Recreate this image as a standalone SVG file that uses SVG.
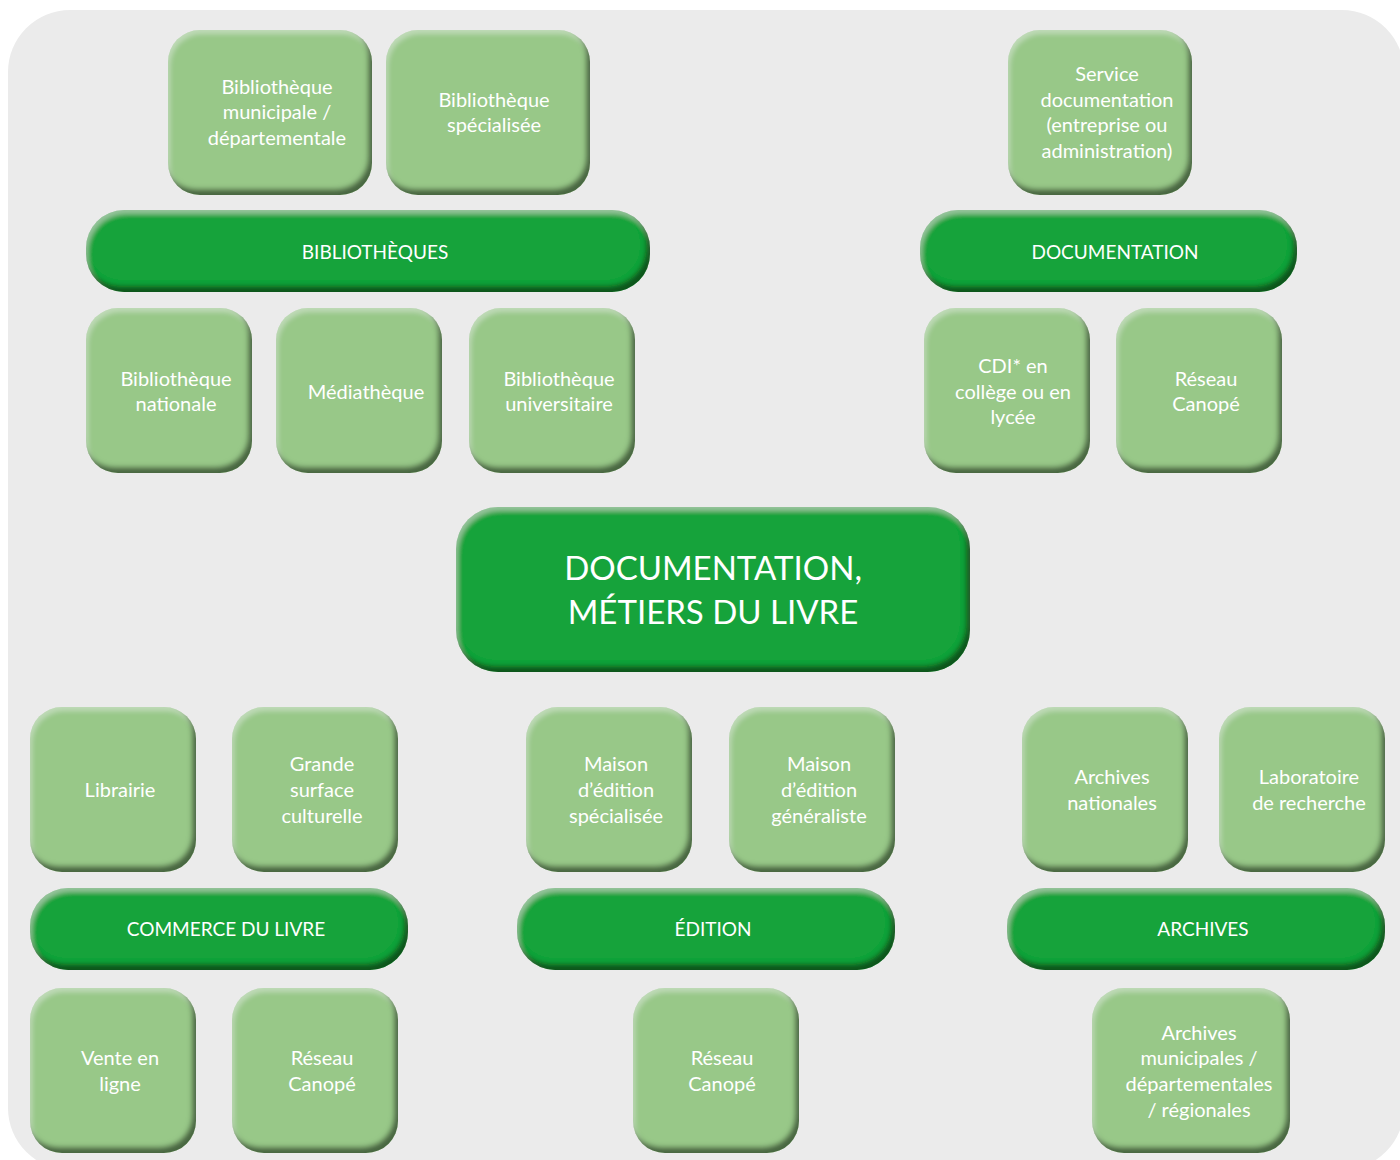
<svg xmlns="http://www.w3.org/2000/svg" width="1400" height="1160" viewBox="0 0 1400 1160">
<defs>
<filter id="bevel" x="-5%" y="-5%" width="110%" height="110%">
<feGaussianBlur in="SourceAlpha" stdDeviation="2.5" result="b"/>
<feOffset in="b" dx="-4" dy="-6" result="o"/>
<feComposite in="SourceAlpha" in2="o" operator="out" result="rim"/>
<feFlood flood-color="#0f2a0c" flood-opacity="0.8" result="c"/>
<feComposite in="c" in2="rim" operator="in" result="shadow"/>
<feOffset in="b" dx="2" dy="4" result="o2"/>
<feComposite in="SourceAlpha" in2="o2" operator="out" result="rim2"/>
<feFlood flood-color="#ffffff" flood-opacity="0.3" result="c2"/>
<feComposite in="c2" in2="rim2" operator="in" result="hl"/>
<feMerge><feMergeNode in="SourceGraphic"/><feMergeNode in="hl"/><feMergeNode in="shadow"/></feMerge>
</filter>
</defs>
<style>
.leaf{fill:#98c888;filter:url(#bevel)}
.bar{fill:#16a33a;filter:url(#bevel)}
text{font-family:Lato,"Liberation Sans",sans-serif;fill:#ffffff;text-anchor:middle}
.t{font-size:20px}
.b{font-size:19px}
.m{font-size:33px}
</style>
<rect x="8" y="10" width="1396" height="1160" rx="62" fill="#ebebeb"/>
<g id="connectors"/>

<g id="bib-municipale"><rect class="leaf" x="168" y="30" width="204" height="165" rx="32"/>
<text class="t" x="277" y="94">Bibliothèque</text><text class="t" x="277" y="119">municipale /</text><text class="t" x="277" y="145">départementale</text></g>
<g id="bib-specialisee"><rect class="leaf" x="386" y="30" width="204" height="165" rx="32"/>
<text class="t" x="494" y="107">Bibliothèque</text><text class="t" x="494" y="132">spécialisée</text></g>
<g id="bibliotheques"><rect class="bar" x="86" y="210" width="564" height="82" rx="38"/>
<text class="b" x="375" y="259">BIBLIOTHÈQUES</text></g>
<g id="bib-nationale"><rect class="leaf" x="86" y="308" width="166" height="165" rx="32"/>
<text class="t" x="176" y="386">Bibliothèque</text><text class="t" x="176" y="411">nationale</text></g>
<g id="mediatheque"><rect class="leaf" x="276" y="308" width="166" height="165" rx="32"/>
<text class="t" x="366" y="399">Médiathèque</text></g>
<g id="bib-universitaire"><rect class="leaf" x="469" y="308" width="166" height="165" rx="32"/>
<text class="t" x="559" y="386">Bibliothèque</text><text class="t" x="559" y="411">universitaire</text></g>

<g id="service-doc"><rect class="leaf" x="1008" y="30" width="184" height="165" rx="32"/>
<text class="t" x="1107" y="81">Service</text><text class="t" x="1107" y="107">documentation</text><text class="t" x="1107" y="132">(entreprise ou</text><text class="t" x="1107" y="158">administration)</text></g>
<g id="documentation"><rect class="bar" x="920" y="210" width="377" height="82" rx="38"/>
<text class="b" x="1115" y="259">DOCUMENTATION</text></g>
<g id="cdi"><rect class="leaf" x="924" y="308" width="166" height="165" rx="32"/>
<text class="t" x="1013" y="373">CDI* en</text><text class="t" x="1013" y="399">collège ou en</text><text class="t" x="1013" y="424">lycée</text></g>
<g id="canope-doc"><rect class="leaf" x="1116" y="308" width="166" height="165" rx="32"/>
<text class="t" x="1206" y="386">Réseau</text><text class="t" x="1206" y="411">Canopé</text></g>

<g id="central"><rect class="bar" x="456" y="507" width="514" height="165" rx="42"/>
<text class="m" x="713" y="580">DOCUMENTATION,</text><text class="m" x="713" y="624">MÉTIERS DU LIVRE</text></g>

<g id="librairie"><rect class="leaf" x="30" y="707" width="166" height="165" rx="32"/>
<text class="t" x="120" y="797">Librairie</text></g>
<g id="grande-surface"><rect class="leaf" x="232" y="707" width="166" height="165" rx="32"/>
<text class="t" x="322" y="771">Grande</text><text class="t" x="322" y="797">surface</text><text class="t" x="322" y="823">culturelle</text></g>
<g id="commerce"><rect class="bar" x="30" y="888" width="378" height="82" rx="38"/>
<text class="b" x="226" y="936">COMMERCE DU LIVRE</text></g>
<g id="vente-ligne"><rect class="leaf" x="30" y="988" width="166" height="165" rx="32"/>
<text class="t" x="120" y="1065">Vente en</text><text class="t" x="120" y="1091">ligne</text></g>
<g id="canope-commerce"><rect class="leaf" x="232" y="988" width="166" height="165" rx="32"/>
<text class="t" x="322" y="1065">Réseau</text><text class="t" x="322" y="1091">Canopé</text></g>

<g id="edition-specialisee"><rect class="leaf" x="526" y="707" width="166" height="165" rx="32"/>
<text class="t" x="616" y="771">Maison</text><text class="t" x="616" y="797">d’édition</text><text class="t" x="616" y="823">spécialisée</text></g>
<g id="edition-generaliste"><rect class="leaf" x="729" y="707" width="166" height="165" rx="32"/>
<text class="t" x="819" y="771">Maison</text><text class="t" x="819" y="797">d’édition</text><text class="t" x="819" y="823">généraliste</text></g>
<g id="edition"><rect class="bar" x="517" y="888" width="378" height="82" rx="38"/>
<text class="b" x="713" y="936">ÉDITION</text></g>
<g id="canope-edition"><rect class="leaf" x="633" y="988" width="166" height="165" rx="32"/>
<text class="t" x="722" y="1065">Réseau</text><text class="t" x="722" y="1091">Canopé</text></g>

<g id="archives-nationales"><rect class="leaf" x="1022" y="707" width="166" height="165" rx="32"/>
<text class="t" x="1112" y="784">Archives</text><text class="t" x="1112" y="810">nationales</text></g>
<g id="laboratoire"><rect class="leaf" x="1219" y="707" width="166" height="165" rx="32"/>
<text class="t" x="1309" y="784">Laboratoire</text><text class="t" x="1309" y="810">de recherche</text></g>
<g id="archives"><rect class="bar" x="1007" y="888" width="378" height="82" rx="38"/>
<text class="b" x="1203" y="936">ARCHIVES</text></g>
<g id="archives-municipales"><rect class="leaf" x="1092" y="988" width="198" height="165" rx="32"/>
<text class="t" x="1199" y="1040">Archives</text><text class="t" x="1199" y="1065">municipales /</text><text class="t" x="1199" y="1091">départementales</text><text class="t" x="1199" y="1117">/ régionales</text></g>
</svg>
